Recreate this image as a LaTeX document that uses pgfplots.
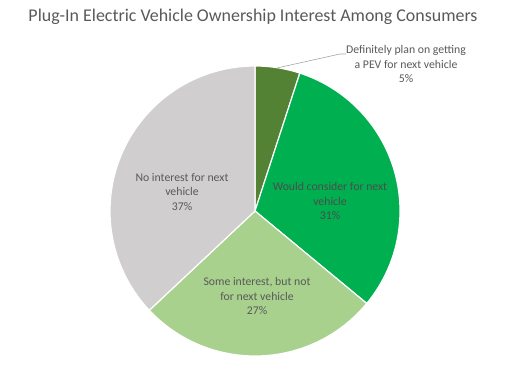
\documentclass[border=0pt]{standalone}
\usepackage{pgfplots}
\pgfplotsset{compat=1.18}
\usepackage{fontspec}
\setmainfont{Carlito}
\definecolor{cDark}{HTML}{548235}
\definecolor{cBright}{HTML}{00B050}
\definecolor{cLight}{HTML}{A9D18E}
\definecolor{cGray}{HTML}{D0CECE}
\definecolor{tGray}{HTML}{595959}
\begin{document}
\begin{tikzpicture}
\begin{axis}[scale only axis, width=520bp, height=385bp,
  xmin=0, xmax=520, ymin=0, ymax=385, hide axis, clip=false]
% shares: 5, 31, 27, 37 (percent), clockwise from 12 o'clock
\addplot[fill=cDark, draw=white, line width=1.2pt, domain=72:90, samples=20]
  ({255+145*cos(x)},{174+145*sin(x)}) -- (axis cs:255,174) -- cycle;
\addplot[fill=cBright, draw=white, line width=1.2pt, domain=-39.6:72, samples=60]
  ({255+145*cos(x)},{174+145*sin(x)}) -- (axis cs:255,174) -- cycle;
\addplot[fill=cLight, draw=white, line width=1.2pt, domain=-136.8:-39.6, samples=60]
  ({255+145*cos(x)},{174+145*sin(x)}) -- (axis cs:255,174) -- cycle;
\addplot[fill=cGray, draw=white, line width=1.2pt, domain=90:223.2, samples=70]
  ({255+145*cos(x)},{174+145*sin(x)}) -- (axis cs:255,174) -- cycle;
\draw[color=black!35, line width=0.6pt] (axis cs:277,317) -- (axis cs:340,331) -- (axis cs:346,331);
\node[text=tGray, font=\fontsize{18}{21}\selectfont] at (axis cs:253,368) {Plug-In Electric Vehicle Ownership Interest Among Consumers};
\node[text=tGray, align=center, font=\fontsize{11.8}{14.5}\selectfont] at (axis cs:406,321) {Definitely plan on getting\\a PEV for next vehicle\\5\%};
\node[text=tGray, align=center, font=\fontsize{11.8}{14.5}\selectfont] at (axis cs:182,193) {No interest for next\\vehicle\\37\%};
\node[text=black!70, align=center, font=\fontsize{11.8}{14.5}\selectfont] at (axis cs:330,184) {Would consider for next\\vehicle\\31\%};
\node[text=tGray, align=center, font=\fontsize{11.8}{14.5}\selectfont] at (axis cs:257,89) {Some interest, but not\\for next vehicle\\27\%};
\path (axis cs:0,0) rectangle (axis cs:520,385);
\end{axis}
\end{tikzpicture}
\end{document}
